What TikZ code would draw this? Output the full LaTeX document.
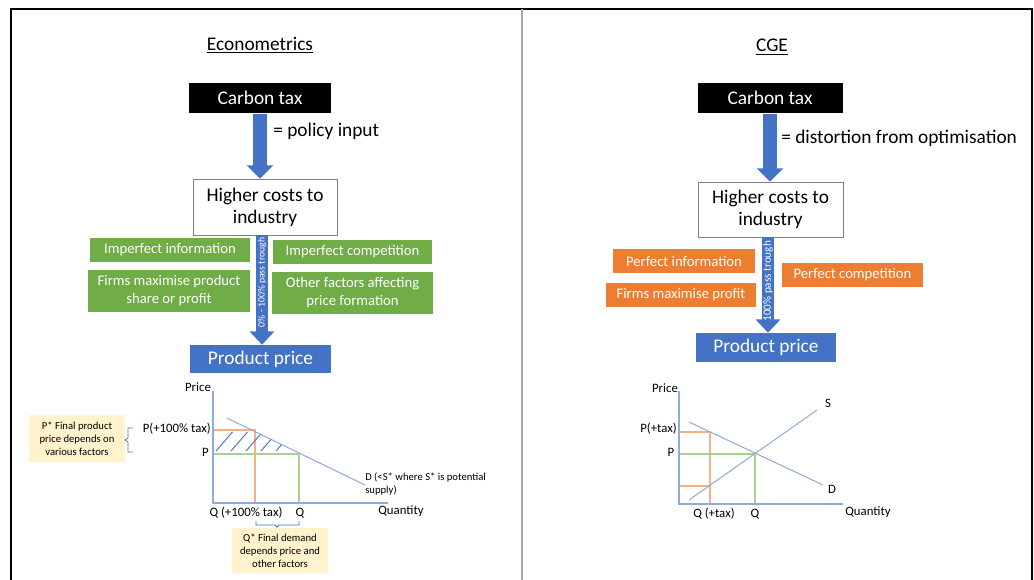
\documentclass[tikz,border=0pt]{standalone}
\usepackage{fontspec}
\setmainfont{Carlito}
\usetikzlibrary{arrows.meta}
\definecolor{oblue}{HTML}{4472C4}
\definecolor{ogreen}{HTML}{70AD47}
\definecolor{oorange}{HTML}{ED7D31}
\definecolor{oyellow}{HTML}{FFF2CC}
\definecolor{lblue}{HTML}{8FAADC}
\definecolor{lorange}{HTML}{F4B183}
\definecolor{lgreen}{HTML}{A9D18E}
\definecolor{dgray}{HTML}{7F7F7F}
\newcommand\fbig{\fontsize{14.5pt}{16.5pt}\selectfont}
\newcommand\fmid{\fontsize{11pt}{13.5pt}\selectfont}
\newcommand\fgraph{\fontsize{9.6pt}{11pt}\selectfont}
\newcommand\fsmall{\fontsize{8pt}{9.75pt}\selectfont}
\newcommand\ftinyL{\fontsize{7.3pt}{8pt}\selectfont}
\newcommand\ftinyR{\fontsize{8.4pt}{9pt}\selectfont}
\tikzset{
  base/.style={inner sep=0pt, align=center},
  blk/.style={base, fill=black, text=white, font=\fbig, minimum height=23pt},
  whb/.style={base, draw=dgray, fill=white, font=\fbig, line width=0.6pt},
  ppb/.style={base, fill=oblue, text=white, font=\fbig},
  grn/.style={base, fill=ogreen, text=white, font=\fmid},
  org/.style={base, fill=oorange, text=white, font=\fmid, minimum height=18pt},
  yel/.style={base, fill=oyellow, font=\fsmall},
  lbl/.style={inner sep=0pt, font=\fgraph},
  bigarrow/.style={oblue, line width=10pt, -{Triangle[width=19.5pt,length=10pt]}},
  thinarrow/.style={oblue, line width=9pt, -{Triangle[width=18pt,length=10pt]}},
  axis/.style={lblue, line width=1.1pt},
  curve/.style={lblue, line width=0.75pt},
  oline/.style={lorange, line width=0.9pt},
  gline/.style={lgreen, line width=0.9pt},
  brk/.style={oblue, line width=0.6pt},
}
\begin{document}
\begin{tikzpicture}[x=0.75pt,y=-0.75pt]
\useasboundingbox (0,0) rectangle (1034,579);
\fill[white] (0,0) rectangle (1034,579);
% frame
\draw[line width=1.5pt] (11,585) -- (11,9) -- (1032,9) -- (1032,585);
\draw[gray!70, line width=1.5pt] (522,9) -- (522,585);

% ===== LEFT: Econometrics =====
\node[font=\fbig] (t1) at (260,45) {\underline{Econometrics}};
\node[blk, minimum width=106.5pt] (ct1) at (260,98) {Carbon tax};
\node[whb, minimum width=108pt, minimum height=42pt] (hc1) at (265,207) {Higher costs to\\industry};
\node[ppb, minimum width=105.75pt, minimum height=21pt] (pp1) at (260.5,359) {Product price};
\node[font=\fbig, anchor=west, inner sep=0pt] (pi1) at (273,131) {= policy input};
\draw[bigarrow] (ct1.south) -- (ct1.south |- hc1.north);
\coordinate (a1) at (262,0);
\draw[thinarrow] (a1 |- hc1.south) -- (a1 |- pp1.north)
  node[pos=0.43, rotate=90, text=white, font=\ftinyL, inner sep=0pt] (pt1) {0\% - 100\% pass trough};
\node[grn, minimum width=120pt, minimum height=18pt] (g1) at (170,250) {Imperfect information};
\node[grn, minimum width=121.5pt, minimum height=31.5pt] (g2) at (169,291) {Firms maximise product\\share or profit};
\node[grn, minimum width=119.25pt, minimum height=18pt] (g3) at (352.5,252) {Imperfect competition};
\node[grn, minimum width=120.75pt, minimum height=31.5pt] (g4) at (352.5,293) {Other factors affecting\\price formation};

% left graph
\coordinate (L0) at (213,503);
\coordinate (Ly) at (213,391);
\coordinate (Lx) at (388,503);
\coordinate (Ld1) at (227,418);
\coordinate (Ld2) at (365,485);
\coordinate (Lpt) at (255,430);
\coordinate (Lpe) at (299,454);
\draw[oline] (Lpt -| L0) -- (Lpt) -- (Lpt |- L0);
\draw[gline] (Lpe -| L0) -- (Lpe) -- (Lpe |- L0);
\draw[curve] (Ld1) -- (Ld2);
\draw[axis] (Ly) -- (L0) -- (Lx);
\foreach \a/\b/\c/\d in {216/451/232.5/432, 231/451/247.5/432, 246/451/260.5/434.3, 261/451/271/439.4, 276/451/281.6/444.5}
  \draw[oblue, line width=0.7pt] (\a,\b) -- (\c,\d);
\node[lbl] (lpr) at (198,387) {Price};
\node[lbl, anchor=east] (lptx) at (211,429) {P(+100\% tax)};
\node[lbl, anchor=east] (lp) at (209,452) {P};
\node[lbl] (lqtx) at (246,513) {Q (+100\% tax)};
\node[lbl] (lq) at (300,513) {Q};
\node[lbl] (lqty) at (401,511) {Quantity};
\node[inner sep=0pt, font=\fsmall, anchor=north west, align=left] (ld) at (365,472) {D (<S* where S* is potential\\supply)};
\node[yel, minimum width=72pt, minimum height=35.25pt] (y1) at (77,438.5) {P* Final product\\price depends on\\various factors};
\node[yel, minimum width=72pt, minimum height=33.75pt] (y2) at (280,550.5) {Q* Final demand\\depends price and\\other factors};
\draw[brk] (133,428) -- (128,428) -- (128,438) -- (125,440) -- (128,442) -- (128,452) -- (133,452);
\draw[brk] (256,521) -- (256,525) -- (275,525) -- (277,527) -- (y2.north -| 277,0);
\draw[brk] (277,527) -- (279,525) -- (299,525) -- (299,521);

% ===== RIGHT: CGE =====
\node[font=\fbig] (t2) at (772,47) {\underline{CGE}};
\node[blk, minimum width=108.75pt] (ct2) at (770,98) {Carbon tax};
\node[whb, minimum width=108.75pt, minimum height=41.25pt] (hc2) at (770.5,209.5) {Higher costs to\\industry};
\node[ppb, minimum width=105pt, minimum height=21.75pt] (pp2) at (766,347.5) {Product price};
\node[font=\fbig, anchor=west, inner sep=0pt] (di2) at (781,138) {= distortion from optimisation};
\draw[bigarrow] (ct2.south) -- (ct2.south |- hc2.north);
\coordinate (a2) at (768,0);
\draw[thinarrow] (a2 |- hc2.south) -- (a2 |- pp2.north)
  node[pos=0.46, rotate=90, text=white, font=\ftinyR, inner sep=0pt] (pt2) {100\% pass trough};
\node[org, minimum width=106.5pt] (o1) at (684,261) {Perfect information};
\node[org, minimum width=112.5pt] (o2) at (681,295) {Firms maximise profit};
\node[org, minimum width=105.75pt] (o3) at (852.5,275) {Perfect competition};

% right graph
\coordinate (R0) at (679,504);
\coordinate (Ry) at (679,391);
\coordinate (Rx) at (843,504);
\coordinate (Rd1) at (689,422);
\coordinate (Rd2) at (823,485);
\coordinate (Rs1) at (689,500);
\coordinate (Rs2) at (817,410);
\coordinate (Rpt) at (710,432);
\coordinate (Rpl) at (710,486);
\coordinate (Rpe) at (755,454);
\draw[oline] (Rpt -| R0) -- (Rpt) -- (Rpt |- R0);
\draw[oline] (Rpl -| R0) -- (Rpl);
\draw[gline] (Rpe -| R0) -- (Rpe) -- (Rpe |- R0);
\draw[curve] (Rd1) -- (Rd2);
\draw[curve] (Rs1) -- (Rs2);
\draw[axis] (Ry) -- (R0) -- (Rx);
\node[lbl] (rpr) at (665,388) {Price};
\node[lbl, anchor=east] (rptx) at (677,429) {P(+tax)};
\node[lbl] (rp) at (671,452) {P};
\node[lbl] (rs) at (828,403) {S};
\node[lbl] (rd) at (832,489) {D};
\node[lbl] (rqtx) at (714,514) {Q (+tax)};
\node[lbl] (rq) at (755,514) {Q};
\node[lbl] (rqty) at (868,512) {Quantity};
\end{tikzpicture}
\end{document}
